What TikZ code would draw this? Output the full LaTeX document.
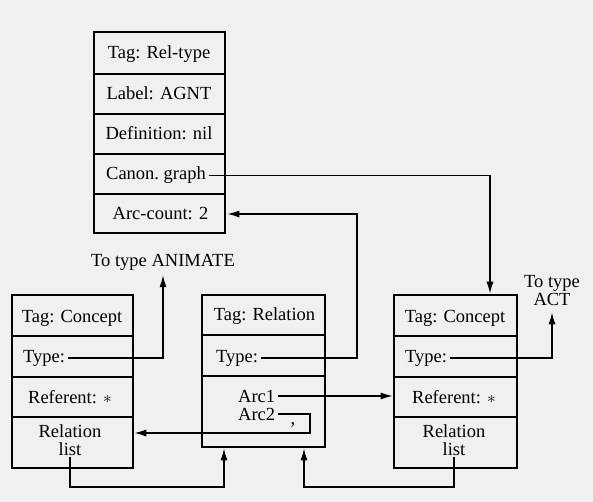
\documentclass[tikz,border=0pt]{standalone}
\usepackage{fontspec}
\setmainfont{Liberation Serif}
\usetikzlibrary{arrows.meta}
\begin{document}
\begin{tikzpicture}[x=1pt,y=-1pt,
  box/.style={draw, line width=2.6pt, inner sep=0pt},
  divider/.style={line width=2.6pt},
  lbl/.style={inner sep=0pt, font=\fontsize{18.5}{18}\selectfont, anchor=base},
  lblw/.style={lbl, anchor=base west},
  two/.style={lbl, align=center},
  conn/.style={line width=1.4pt, -{Latex[length=12pt,width=7pt]}}
]
\fill[black!6] (0,0) rectangle (593,502);
\useasboundingbox (0,0) rectangle (593,502);

% boxes
\node[box, minimum width=131pt, minimum height=201pt] (rt) at (159.5,132.5) {};
\node[box, minimum width=121pt, minimum height=173pt] (lc) at (72.5,381.5) {};
\node[box, minimum width=123pt, minimum height=152pt] (rel) at (263.5,371) {};
\node[box, minimum width=123pt, minimum height=173pt] (rc) at (455.5,381.5) {};

% dividers
\foreach \yy in {74,114,154,194} \draw[divider] (rt.west |- 0,\yy) -- (rt.east |- 0,\yy);
\foreach \yy in {336,377,417} \draw[divider] (lc.west |- 0,\yy) -- (lc.east |- 0,\yy);
\foreach \yy in {335,376} \draw[divider] (rel.west |- 0,\yy) -- (rel.east |- 0,\yy);
\foreach \yy in {336,377,417} \draw[divider] (rc.west |- 0,\yy) -- (rc.east |- 0,\yy);

% top box texts
\node[lbl] (tagrt) at (159,59) {Tag: Rel-type};
\node[lbl] (label) at (159,100) {Label: AGNT};
\node[lbl] (defn) at (159,140) {Definition: nil};
\node[lbl] (canon) at (156,180) {Canon.\ graph};
\node[lbl] (arccount) at (160.5,220) {Arc-count: 2};

% left box texts
\node[lbl] (tagl) at (72,322) {Tag: Concept};
\node[lblw] (typeL) at (23,362) {Type:};
\node[lbl] (refL) at (70,403) {Referent: $*$};
\node[two] (rlistL) at (70,455) {Relation\\list};

% middle box texts
\node[lbl] (tagm) at (264.5,320) {Tag: Relation};
\node[lblw] (typeM) at (216,362) {Type:};
\node[lblw] (arc1) at (238,402) {Arc1};
\node[lblw] (arc2) at (238,420) {Arc2};
\node[lbl] (comma) at (293,424) {,};

% right box texts
\node[lbl] (tagr) at (455,322) {Tag: Concept};
\node[lblw] (typeR) at (405,362) {Type:};
\node[lbl] (refR) at (454,403) {Referent: $*$};
\node[two] (rlistR) at (454,455) {Relation\\list};

% free labels
\node[lbl] (animate) at (163,266) {To type ANIMATE};
\node[two] (act) at (552,305) {To type\\ACT};

% helper coordinates
\coordinate (c1) at (357,0);
\coordinate (c2) at (310,433);
\coordinate (c3) at (304,487);
\coordinate (c4) at (224,487);
\coordinate (c5) at (490,0);

% connectors
\draw[conn] ([xshift=3pt]canon.east) -| (c5 |- rc.north);
\draw[conn] ([xshift=3pt]typeM.east) -| (c1 |- arccount) -- ([xshift=1pt]rt.east |- arccount);
\draw[conn] ([xshift=3pt]typeL.east) -| ([yshift=-5pt]animate.south);
\draw[conn] ([xshift=3pt]typeR.east) -| ([yshift=-7pt]act.south);
\draw[conn] ([xshift=3pt]arc1.east) -- (rc.west |- arc1);
\draw[conn] ([xshift=3pt]arc2.east) -| (c2) -- (lc.east |- c2);
\draw[conn] ([yshift=-2pt]rlistR.south) |- (c3) -- (c3 |- rel.south);
\draw[conn] ([yshift=-2pt]rlistL.south) |- (c4) -- (c4 |- rel.south);
\end{tikzpicture}
\end{document}
